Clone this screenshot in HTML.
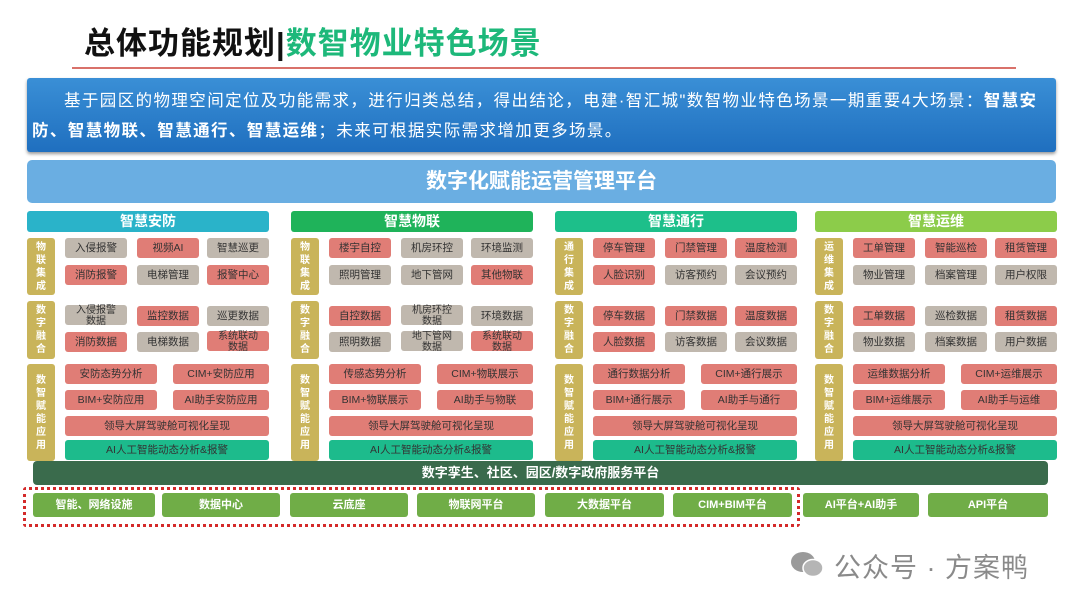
<!DOCTYPE html>
<html><head><meta charset="utf-8"><style>
*{margin:0;padding:0;box-sizing:border-box}
body{width:1080px;height:607px;background:#fff;position:relative;overflow:hidden;font-family:"Liberation Sans","Noto Sans CJK SC",sans-serif}
.a{position:absolute}
.col{position:absolute;top:211px;width:242px;height:252px}
.hd{position:absolute;left:0;top:0;width:242px;height:21px;border-radius:3px;color:#fff;font-weight:bold;font-size:14px;text-align:center;line-height:21px}
.sd{position:absolute;left:0;width:28px;background:#c9b45a;border-radius:3px;color:#fff;font-size:10px;font-weight:bold;display:flex;flex-direction:column;align-items:center;justify-content:center;line-height:13px;text-align:center}
.it{position:absolute;height:20px;border-radius:3px;font-size:10.5px;color:#333;text-align:center;line-height:20px;white-space:nowrap;overflow:hidden}
.it.t2{line-height:11px;font-size:10px;overflow:visible;padding-top:0;margin-top:-1px}
.p{background:#e07d76}.g{background:#c0b8ae}.tl{background:#1dbb8c}
.x1{left:38px;width:62px}.x2{left:110px;width:62px}.x3{left:180px;width:62px}
.ya{left:38px;width:92px}.yb{left:146px;width:96px}.w{left:38px;width:204px}
.bt{position:absolute;top:493px;height:24px;background:#70ad47;border-radius:3px;color:#fff;font-size:11px;font-weight:bold;text-align:center;line-height:24px}
</style></head><body>
<div class="a" style="left:84px;top:18px;font-size:31px;font-weight:bold;color:#111;letter-spacing:1px;white-space:nowrap">总体功能规划|<span style="color:#1db87a">数智物业特色场景</span></div>
<div class="a" style="left:72px;top:67px;width:944px;height:2px;background:#d9716a"></div>
<div class="a" style="left:27px;top:78px;width:1029px;height:74px;background:linear-gradient(#3a8fd6,#1f6fbf);border-radius:3px;box-shadow:0 2px 3px #999"></div>
<div class="a" style="left:32px;top:86px;width:1020px;color:#fff;font-size:16.5px;line-height:30px;white-space:nowrap;letter-spacing:1.4px"><span style="padding-left:32px"></span>基于园区的物理空间定位及功能需求，进行归类总结，得出结论，电建·智汇城"数智物业特色场景一期重要4大场景：<b>智慧安</b><br><b>防、智慧物联、智慧通行、智慧运维</b>；未来可根据实际需求增加更多场景。</div>
<div class="a" style="left:27px;top:160px;width:1029px;height:43px;background:#6aaee2;border-radius:5px;color:#fff;font-size:21px;font-weight:bold;text-align:center;line-height:43px">数字化赋能运营管理平台</div>

<div class="col" style="left:27px">
<div class="hd" style="background:#2ab3c9">智慧安防</div>
<div class="sd" style="top:27px;height:57px"><span>物<br>联<br>集<br>成</span></div>
<div class="sd" style="top:90px;height:58px"><span>数<br>字<br>融<br>合</span></div>
<div class="sd" style="top:153px;height:97px"><span>数<br>智<br>赋<br>能<br>应<br>用</span></div>
<div class="it g x1" style="top:27px">入侵报警</div><div class="it p x2" style="top:27px">视频AI</div><div class="it g x3" style="top:27px">智慧巡更</div>
<div class="it p x1" style="top:54px">消防报警</div><div class="it g x2" style="top:54px">电梯管理</div><div class="it p x3" style="top:54px">报警中心</div>
<div class="it g x1 t2" style="top:95px">入侵报警<br>数据</div><div class="it p x2" style="top:95px">监控数据</div><div class="it g x3" style="top:95px">巡更数据</div>
<div class="it p x1" style="top:121px">消防数据</div><div class="it g x2" style="top:121px">电梯数据</div><div class="it p x3 t2" style="top:121px">系统联动<br>数据</div>
<div class="it p ya" style="top:153px">安防态势分析</div><div class="it p yb" style="top:153px">CIM+安防应用</div>
<div class="it p ya" style="top:179px">BIM+安防应用</div><div class="it p yb" style="top:179px">AI助手安防应用</div>
<div class="it p w" style="top:205px">领导大屏驾驶舱可视化呈现</div>
<div class="it tl w" style="top:229px">AI人工智能动态分析&amp;报警</div>
</div>

<div class="col" style="left:291px">
<div class="hd" style="background:#1fb35a">智慧物联</div>
<div class="sd" style="top:27px;height:57px"><span>物<br>联<br>集<br>成</span></div>
<div class="sd" style="top:90px;height:58px"><span>数<br>字<br>融<br>合</span></div>
<div class="sd" style="top:153px;height:97px"><span>数<br>智<br>赋<br>能<br>应<br>用</span></div>
<div class="it p x1" style="top:27px">楼宇自控</div><div class="it g x2" style="top:27px">机房环控</div><div class="it g x3" style="top:27px">环境监测</div>
<div class="it g x1" style="top:54px">照明管理</div><div class="it g x2" style="top:54px">地下管网</div><div class="it p x3" style="top:54px">其他物联</div>
<div class="it p x1" style="top:95px">自控数据</div><div class="it g x2 t2" style="top:95px">机房环控<br>数据</div><div class="it g x3" style="top:95px">环境数据</div>
<div class="it g x1" style="top:121px">照明数据</div><div class="it g x2 t2" style="top:121px">地下管网<br>数据</div><div class="it p x3 t2" style="top:121px">系统联动<br>数据</div>
<div class="it p ya" style="top:153px">传感态势分析</div><div class="it p yb" style="top:153px">CIM+物联展示</div>
<div class="it p ya" style="top:179px">BIM+物联展示</div><div class="it p yb" style="top:179px">AI助手与物联</div>
<div class="it p w" style="top:205px">领导大屏驾驶舱可视化呈现</div>
<div class="it tl w" style="top:229px">AI人工智能动态分析&amp;报警</div>
</div>

<div class="col" style="left:555px">
<div class="hd" style="background:#1dbf8a">智慧通行</div>
<div class="sd" style="top:27px;height:57px"><span>通<br>行<br>集<br>成</span></div>
<div class="sd" style="top:90px;height:58px"><span>数<br>字<br>融<br>合</span></div>
<div class="sd" style="top:153px;height:97px"><span>数<br>智<br>赋<br>能<br>应<br>用</span></div>
<div class="it p x1" style="top:27px">停车管理</div><div class="it p x2" style="top:27px">门禁管理</div><div class="it p x3" style="top:27px">温度检测</div>
<div class="it p x1" style="top:54px">人脸识别</div><div class="it g x2" style="top:54px">访客预约</div><div class="it g x3" style="top:54px">会议预约</div>
<div class="it p x1" style="top:95px">停车数据</div><div class="it p x2" style="top:95px">门禁数据</div><div class="it p x3" style="top:95px">温度数据</div>
<div class="it p x1" style="top:121px">人脸数据</div><div class="it g x2" style="top:121px">访客数据</div><div class="it g x3" style="top:121px">会议数据</div>
<div class="it p ya" style="top:153px">通行数据分析</div><div class="it p yb" style="top:153px">CIM+通行展示</div>
<div class="it p ya" style="top:179px">BIM+通行展示</div><div class="it p yb" style="top:179px">AI助手与通行</div>
<div class="it p w" style="top:205px">领导大屏驾驶舱可视化呈现</div>
<div class="it tl w" style="top:229px">AI人工智能动态分析&amp;报警</div>
</div>

<div class="col" style="left:815px">
<div class="hd" style="background:#8ccc4a">智慧运维</div>
<div class="sd" style="top:27px;height:57px"><span>运<br>维<br>集<br>成</span></div>
<div class="sd" style="top:90px;height:58px"><span>数<br>字<br>融<br>合</span></div>
<div class="sd" style="top:153px;height:97px"><span>数<br>智<br>赋<br>能<br>应<br>用</span></div>
<div class="it p x1" style="top:27px">工单管理</div><div class="it p x2" style="top:27px">智能巡检</div><div class="it p x3" style="top:27px">租赁管理</div>
<div class="it g x1" style="top:54px">物业管理</div><div class="it g x2" style="top:54px">档案管理</div><div class="it g x3" style="top:54px">用户权限</div>
<div class="it p x1" style="top:95px">工单数据</div><div class="it g x2" style="top:95px">巡检数据</div><div class="it p x3" style="top:95px">租赁数据</div>
<div class="it g x1" style="top:121px">物业数据</div><div class="it g x2" style="top:121px">档案数据</div><div class="it g x3" style="top:121px">用户数据</div>
<div class="it p ya" style="top:153px">运维数据分析</div><div class="it p yb" style="top:153px">CIM+运维展示</div>
<div class="it p ya" style="top:179px">BIM+运维展示</div><div class="it p yb" style="top:179px">AI助手与运维</div>
<div class="it p w" style="top:205px">领导大屏驾驶舱可视化呈现</div>
<div class="it tl w" style="top:229px">AI人工智能动态分析&amp;报警</div>
</div>

<div class="a" style="left:33px;top:461px;width:1015px;height:24px;background:#3a6b4c;border-radius:4px;color:#fff;font-size:13px;font-weight:bold;text-align:center;line-height:24px">数字孪生、社区、园区/数字政府服务平台</div>
<div class="a" style="left:23px;top:487px;width:777px;height:40px;border:3px dotted #d42a2a;border-radius:3px"></div>
<div class="bt" style="left:33px;width:122px">智能、网络设施</div>
<div class="bt" style="left:162px;width:118px">数据中心</div>
<div class="bt" style="left:290px;width:118px">云底座</div>
<div class="bt" style="left:417px;width:118px">物联网平台</div>
<div class="bt" style="left:545px;width:119px">大数据平台</div>
<div class="bt" style="left:673px;width:119px">CIM+BIM平台</div>
<div class="bt" style="left:803px;width:116px">AI平台+AI助手</div>
<div class="bt" style="left:928px;width:120px">API平台</div>

<div class="a" style="left:790px;top:550px;width:34px;height:30px">
<svg width="34" height="30"><ellipse cx="13" cy="12" rx="12" ry="10" fill="#9a9a9a"/><ellipse cx="23" cy="18" rx="10" ry="8.5" fill="#b5b5b5" stroke="#fff" stroke-width="1.5"/></svg></div>
<div class="a" style="left:834px;top:546px;font-size:27px;color:#8a8a8a;white-space:nowrap;letter-spacing:1px">公众号 · 方案鸭</div>
</body></html>
